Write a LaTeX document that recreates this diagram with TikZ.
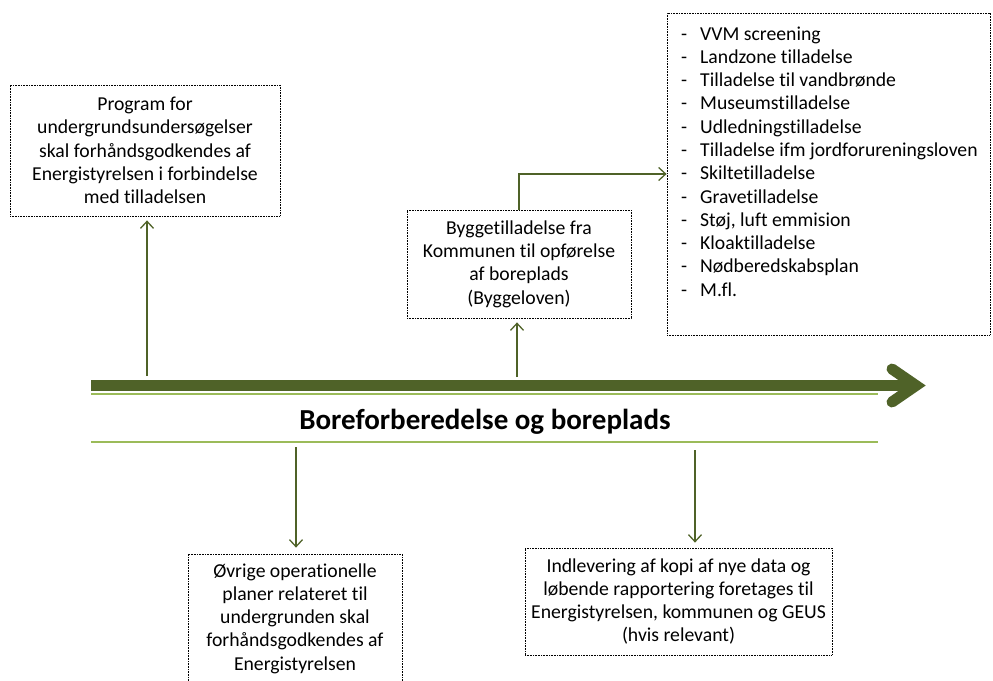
\documentclass[tikz,border=0pt]{standalone}
\usepackage{fontspec}
\setmainfont{Carlito}[Ligatures=NoCommon]
\usetikzlibrary{arrows.meta}
\definecolor{olivedark}{HTML}{4F6228}
\definecolor{lightgreen}{HTML}{9BBB59}
\begin{document}
\begin{tikzpicture}[x=1pt,y=-1pt,
  box/.style={draw=black, line width=0.8pt, dash pattern=on 0.8pt off 0.8pt, align=center, inner sep=0pt,
    font=\fontsize{19.7}{23.3}\selectfont},
  conn/.style={draw=olivedark, line width=1.3pt, -{Straight Barb[length=7pt,width=13pt]}},
  bar/.style={draw=olivedark, line width=11pt},
  thin/.style={draw=lightgreen, line width=2pt}]
\useasboundingbox (0,0) rectangle (993,680);
% main arrow
\draw[bar] (91,385.5) -- (916,385.5);
\draw[bar, line cap=round, miter limit=10] (892,369) -- (916,385.5) -- (892,402);
\draw[thin] (91,394) -- (878,394);
\draw[thin] (91,442) -- (878,442);
\node (title) [anchor=base, font=\bfseries\fontsize{29}{34}\selectfont] at (485,429) {Boreforberedelse og boreplads};
% boxes
\node (b1) [box, minimum width=270pt, minimum height=131pt] at (145,150.5)
  {Program for\\undergrundsundersøgelser\\skal forhåndsgodkendes af\\Energistyrelsen i forbindelse\\med tilladelsen};
\node (b2) [box, minimum width=224pt, minimum height=108pt] at (519,264)
  {Byggetilladelse fra\\Kommunen til opførelse\\af boreplads\\(Byggeloven)};
\node (list) [box, minimum width=323pt, minimum height=322pt] at (828.5,174) {};
\node (listtext) [anchor=base west, inner sep=0pt, font=\fontsize{19.7}{23.3}\selectfont] at (681,40)
  {\begin{tabular}[t]{@{}p{19pt}@{}l@{}}
  - & VVM screening\\
  - & Landzone tilladelse\\
  - & Tilladelse til vandbrønde\\
  - & Museumstilladelse\\
  - & Udledningstilladelse\\
  - & Tilladelse ifm jordforureningsloven\\
  - & Skiltetilladelse\\
  - & Gravetilladelse\\
  - & Støj, luft emmision\\
  - & Kloaktilladelse\\
  - & Nødberedskabsplan\\
  - & M.fl.
  \end{tabular}};
\node (b4) [box, minimum width=214pt, minimum height=129pt] at (295,618.5)
  {Øvrige operationelle\\planer relateret til\\undergrunden skal\\forhåndsgodkendes af\\Energistyrelsen};
\node (b5) [box, minimum width=307pt, minimum height=107pt] at (678.5,601.5)
  {Indlevering af kopi af nye data og\\løbende rapportering foretages til\\Energistyrelsen, kommunen og GEUS\\(hvis relevant)};
% connectors
\coordinate (s1) at (147,376);
\coordinate (s2) at (517,377);
\coordinate (s4) at (296,447);
\coordinate (s5) at (695,450);
\draw[conn, shorten >=4pt] (s1) -- (s1 |- b1.south);
\draw[conn, shorten >=4pt] (s2) -- (s2 |- b2.south);
\draw[conn] (b2.north) |- (list.west);
\draw[conn, shorten >=6pt] (s4) -- (s4 |- b4.north);
\draw[conn, shorten >=5pt] (s5) -- (s5 |- b5.north);
\end{tikzpicture}
\end{document}
